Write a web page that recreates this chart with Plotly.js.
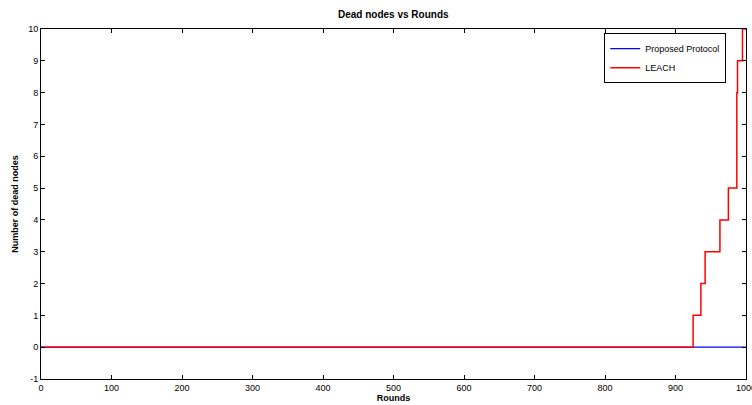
<!DOCTYPE html>
<html>
<head>
<meta charset="utf-8">
<script src="https://cdn.plot.ly/plotly-3.0.1.min.js"></script>
<style>html,body{margin:0;padding:0;background:#fff;}#chart{width:752px;height:405px;}</style>
</head>
<body>
<div id="chart"></div>
<script>
// Data
const proposedRounds = [0, 1000];
const proposedDead = [0, 0];
const leachRounds = [0, 925, 936, 942, 963, 975, 987, 988, 995, 1000];
const leachDead = [0, 1, 2, 3, 4, 5, 8, 9, 10, 10];
const xTicks = [0, 100, 200, 300, 400, 500, 600, 700, 800, 900, 1000];
const yTicks = [-1, 0, 1, 2, 3, 4, 5, 6, 7, 8, 9, 10];

const traces = [
  {x: proposedRounds, y: proposedDead, name: 'Proposed Protocol', mode: 'lines',
   line: {color: '#0000ff', width: 1.3}},
  {x: leachRounds, y: leachDead, name: 'LEACH', mode: 'lines',
   line: {color: '#ff0000', width: 1.5, shape: 'hv'}}
];

const axisCommon = {
  showgrid: false, zeroline: false, showline: true, linecolor: '#000', linewidth: 1,
  mirror: 'ticks', ticks: 'inside', ticklen: 4, tickcolor: '#000', tickwidth: 1,
  ticklabeloverflow: 'allow',
  tickfont: {family: 'Liberation Sans, Arial, sans-serif', size: 9, color: '#000'}
};

const layout = {
  width: 752, height: 405,
  margin: {l: 41, r: 6, t: 29, b: 26},
  paper_bgcolor: '#fff', plot_bgcolor: '#fff',
  title: {text: '<b>Dead nodes vs Rounds</b>', x: 0.523, xanchor: 'center', y: 0.965, yanchor: 'middle',
    font: {family: 'Liberation Sans, Arial, sans-serif', size: 10, color: '#000'}},
  xaxis: Object.assign({}, axisCommon, {
    range: [0, 1000], tickvals: xTicks, ticktext: xTicks.map(String),
    title: {text: '<b>Rounds</b>', standoff: 2, font: {family: 'Liberation Sans, Arial, sans-serif', size: 9, color: '#000'}}
  }),
  yaxis: Object.assign({}, axisCommon, {
    range: [-1, 10], tickvals: yTicks, ticktext: yTicks.map(String),
    title: {text: '<b>Number of dead nodes</b>', standoff: 8, font: {family: 'Liberation Sans, Arial, sans-serif', size: 9, color: '#000'}}
  }),
  showlegend: true,
  legend: {x: 0.972, xanchor: 'right', y: 0.988, yanchor: 'top', bgcolor: '#fff',
    bordercolor: '#000', borderwidth: 1,
    font: {family: 'Liberation Sans, Arial, sans-serif', size: 9, color: '#000'},
    tracegroupgap: 0, itemwidth: 30}
};

Plotly.newPlot('chart', traces, layout, {staticPlot: true, displayModeBar: false});
</script>
</body>
</html>
